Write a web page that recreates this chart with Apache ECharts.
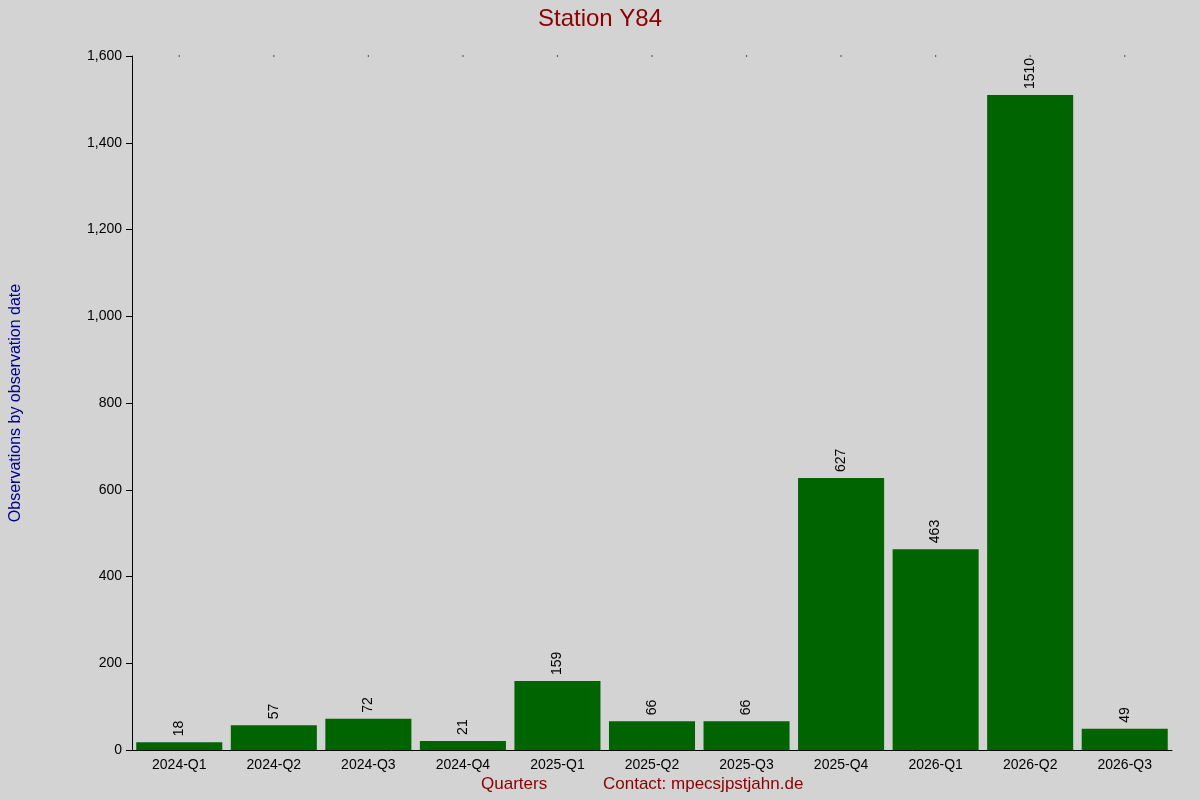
<!DOCTYPE html>
<html><head><meta charset="utf-8">
<script src="https://cdn.jsdelivr.net/npm/echarts@6/dist/echarts.min.js"></script>
<style>html,body{margin:0;background:#d3d3d3}#c{width:1200px;height:800px}</style>
</head><body><div id="c"></div>
<script>
const categories = ['2024-Q1','2024-Q2','2024-Q3','2024-Q4','2025-Q1','2025-Q2','2025-Q3','2025-Q4','2026-Q1','2026-Q2','2026-Q3'];
const values = [18,57,72,21,159,66,66,627,463,1510,49];
const yMax = 1600;
const chart = echarts.init(document.getElementById('c'));
chart.setOption({
  backgroundColor:'#d3d3d3',
  animation:false,
  title:{text:'Station Y84',left:'center',top:2,textStyle:{color:'#8b0000',fontSize:24,fontWeight:'normal',fontFamily:'Liberation Sans'}},
  grid:{left:125,right:28,top:56,bottom:50},
  xAxis:{type:'category',data:categories,
    axisLine:{lineStyle:{color:'#000'}},axisTick:{show:false},
    axisLabel:{color:'#000',fontSize:14,fontFamily:'Liberation Sans',margin:8}},
  yAxis:{type:'value',min:0,max:yMax,interval:200,splitLine:{show:false},
    name:'Observations by observation date',nameLocation:'middle',nameGap:108,
    nameTextStyle:{color:'#00008b',fontSize:16,fontFamily:'Liberation Sans'},
    axisLine:{show:true,lineStyle:{color:'#000'}},axisTick:{show:true,length:6,lineStyle:{color:'#000'}},
    axisLabel:{color:'#000',fontSize:14,fontFamily:'Liberation Sans',margin:10}},
  graphic:[
    {type:'text',left:481,top:776,style:{text:'Quarters',fill:'#8b0000',font:'17px "Liberation Sans"'}},
    {type:'text',left:603,top:776,style:{text:'Contact: mpecsjpstjahn.de',fill:'#8b0000',font:'17px "Liberation Sans"'}}
  ],
  series:[
    {type:'bar',data:values,barCategoryGap:'9%',itemStyle:{color:'#006400'},
     label:{show:true,position:'top',rotate:90,align:'left',verticalAlign:'middle',distance:6,color:'#000',fontSize:14,fontFamily:'Liberation Sans'}},
    {type:'scatter',data:categories.map(c=>[c,yMax]),symbolSize:1.5,itemStyle:{color:'#000'},silent:true}
  ]
});
</script></body></html>
